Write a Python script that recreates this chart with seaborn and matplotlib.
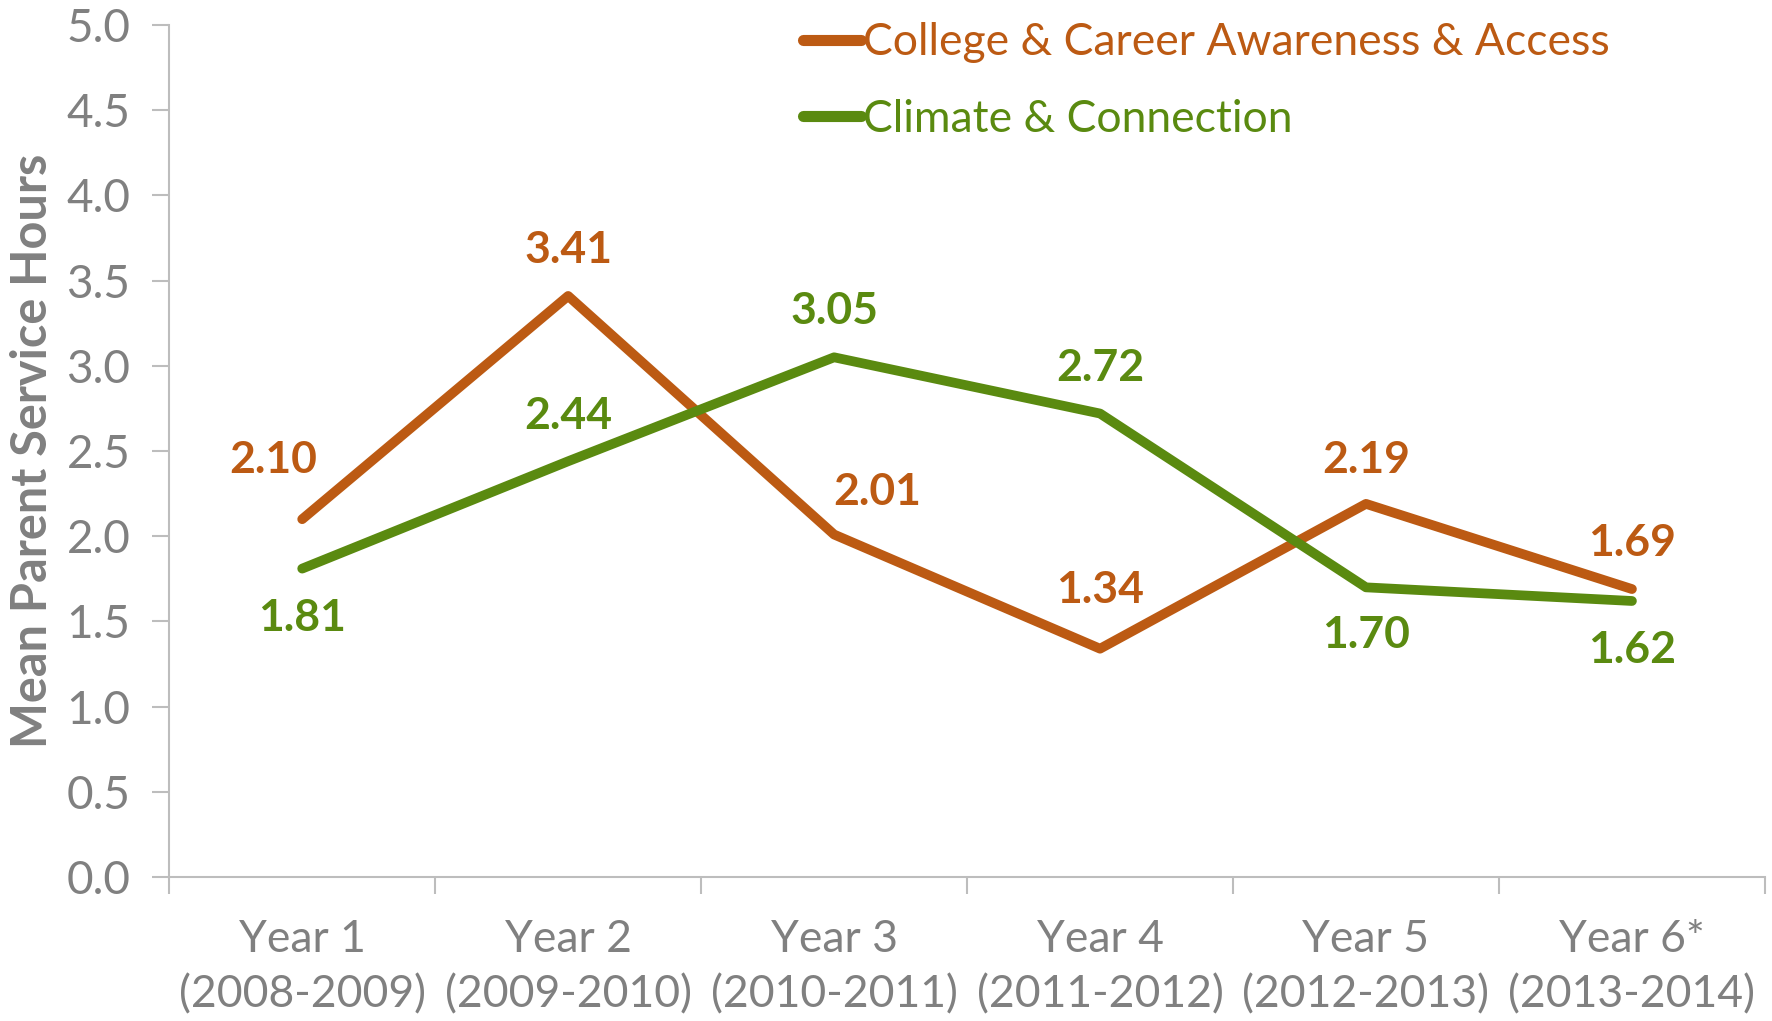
import numpy as np
import pandas as pd
import seaborn as sns
import matplotlib.pyplot as plt
from matplotlib.ticker import FixedLocator, NullFormatter

years = ['Year 1\n(2008-2009)', 'Year 2\n(2009-2010)', 'Year 3\n(2010-2011)',
         'Year 4\n(2011-2012)', 'Year 5\n(2012-2013)', 'Year 6*\n(2013-2014)']
college = [2.10, 3.41, 2.01, 1.34, 2.19, 1.69]
climate = [1.81, 2.44, 3.05, 2.72, 1.70, 1.62]
series_names = ['College & Career Awareness & Access', 'Climate & Connection']

orange = '#BC5A13'
green = '#5A8A10'
grey = '#808080'
axis_grey = '#BDBDBD'

sns.set_style('white')
plt.rcParams['font.family'] = ['Lato', 'DejaVu Sans']

df = pd.DataFrame({
    'pos': list(range(len(years))) * 2,
    'hours': college + climate,
    'series': [series_names[0]] * len(years) + [series_names[1]] * len(years),
})

fig = plt.figure(figsize=(17.72, 10.21), dpi=100)
ax = fig.add_axes([0.0955, 0.141, 0.9005, 0.8345])

sns.lineplot(data=df, x='pos', y='hours', hue='series', palette=[orange, green],
             linewidth=7, sort=False, ax=ax, legend=True)
for ln in ax.lines:
    ln.set_solid_capstyle('round')

# data labels (offsets in pixels)
college_off = [(-29, 59), (0, 46), (43, 43), (0, 59), (0, 44), (0, 46)]
climate_off = [(0, -49), (0, 45), (0, 46), (0, 46), (0, -48), (0, -49)]
for i, (v, o) in enumerate(zip(college, college_off)):
    ax.annotate(f'{v:.2f}', (i, v), xytext=o, textcoords='offset pixels',
                ha='center', va='center', color=orange, fontsize=32, fontweight='bold')
for i, (v, o) in enumerate(zip(climate, climate_off)):
    ax.annotate(f'{v:.2f}', (i, v), xytext=o, textcoords='offset pixels',
                ha='center', va='center', color=green, fontsize=32, fontweight='bold')

ax.set_xlim(-0.5, len(years) - 0.5)
ax.set_ylim(0, 5)
ax.set_yticks(np.arange(0, 5.01, 0.5))
ax.set_yticklabels([f'{t:.1f}' for t in np.arange(0, 5.01, 0.5)])
ax.xaxis.set_major_locator(FixedLocator(np.arange(-0.5, len(years), 1.0)))
ax.xaxis.set_major_formatter(NullFormatter())
ax.xaxis.set_minor_locator(FixedLocator(np.arange(len(years))))
ax.set_xticklabels(years, minor=True, linespacing=1.45)
ax.tick_params(axis='x', which='minor', length=0, pad=30, labelsize=32, labelcolor=grey)
ax.tick_params(axis='x', which='major', length=12, width=1.5, color=axis_grey, direction='out', bottom=True)
ax.tick_params(axis='y', length=12, width=1.5, color=axis_grey, direction='out', left=True,
               labelsize=33, labelcolor=grey, pad=16)

for s in ['top', 'right']:
    ax.spines[s].set_visible(False)
for s in ['left', 'bottom']:
    ax.spines[s].set_color(axis_grey)
    ax.spines[s].set_linewidth(1.5)

ax.set_xlabel('')
ax.set_ylabel('Mean Parent Service Hours', fontsize=35, fontweight='bold', color=grey, labelpad=8)

leg = ax.legend(loc='upper left', bbox_to_anchor=(0.372, 1.05), frameon=False,
                fontsize=32, handlelength=1.3, handletextpad=0.05, labelspacing=0.8)
for txt, c in zip(leg.get_texts(), [orange, green]):
    txt.set_color(c)
for h in leg.get_lines():
    h.set_linewidth(8)
    h.set_solid_capstyle('round')

fig.savefig('out.png', dpi=100)
